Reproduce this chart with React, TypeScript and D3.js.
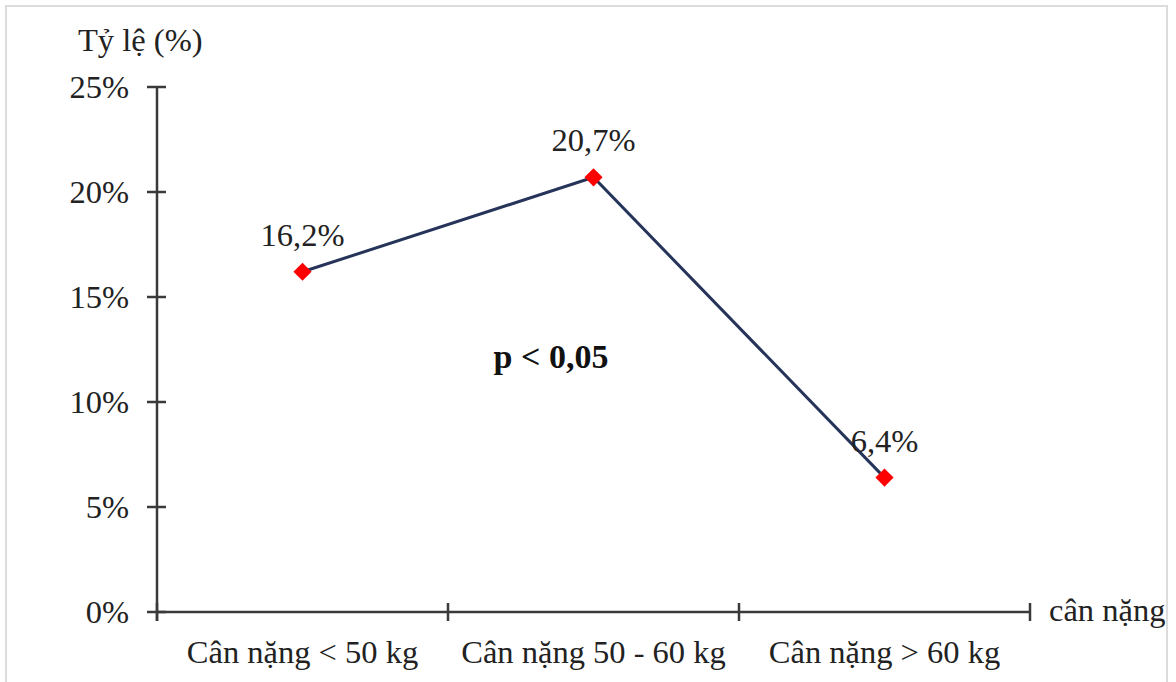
import React from "react";
import * as d3 from "d3";

const categories = ["Cân nặng < 50 kg", "Cân nặng 50 - 60 kg", "Cân nặng > 60 kg"];
const values = [16.2, 20.7, 6.4];
const valueLabels = ["16,2%", "20,7%", "6,4%"];
const yTicks = [0, 5, 10, 15, 20, 25];

const W = 1176;
const H = 682;
const FONT = "'Liberation Serif', 'Times New Roman', serif";
const FS = 32.5;

export default function App() {
  const x = d3.scaleBand<string>().domain(categories).range([157, 1030]).padding(0);
  const y = d3.scaleLinear().domain([0, 25]).range([612, 87]);
  const cx = (c: string) => (x(c) as number) + x.bandwidth() / 2;
  const line = d3
    .line<number>()
    .x((_, i) => cx(categories[i]))
    .y((d) => y(d));
  const xTickPos = [...categories.map((c) => x(c) as number), 1030];
  const axisColor = "#3a3a3a";
  const diamond = d3.symbol().type(d3.symbolDiamond2).size(210)();

  return (
    <svg width={W} height={H} style={{ position: "absolute", left: 0, top: 0, background: "#fff" }} fontFamily={FONT}>
      <rect x={6} y={6} width={1161} height={700} fill="#fff" stroke="#dcdcdc" strokeWidth={2} />
      {/* Y axis */}
      <line x1={157} x2={157} y1={y(25)} y2={621} stroke={axisColor} strokeWidth={2.5} />
      {yTicks.map((t) => (
        <g key={t}>
          <line x1={147} x2={166} y1={y(t)} y2={y(t)} stroke={axisColor} strokeWidth={2.5} />
          <text x={129} y={y(t)} dy="0.35em" textAnchor="end" fontSize={FS} fill="#222">
            {t}%
          </text>
        </g>
      ))}
      <text x={78} y={51} fontSize={FS} fill="#222">Tỷ lệ (%)</text>
      {/* X axis */}
      <line x1={157} x2={1030} y1={612} y2={612} stroke={axisColor} strokeWidth={2.5} />
      {xTickPos.map((p, i) => (
        <line key={i} x1={p} x2={p} y1={603} y2={621} stroke={axisColor} strokeWidth={2.5} />
      ))}
      {categories.map((c) => (
        <text key={c} x={cx(c)} y={663} textAnchor="middle" fontSize={FS} fill="#222">
          {c}
        </text>
      ))}
      <text x={1049} y={621} fontSize={FS} fill="#222">cân nặng</text>
      {/* series */}
      <path d={line(values) || ""} fill="none" stroke="#26345a" strokeWidth={3} />
      {values.map((v, i) => (
        <path key={i} d={diamond || ""} transform={`translate(${cx(categories[i])},${y(v)})`} fill="#ff0000" />
      ))}
      {values.map((v, i) => (
        <text key={i} x={cx(categories[i])} y={y(v) - 26} textAnchor="middle" fontSize={FS} fill="#222">
          {valueLabels[i]}
        </text>
      ))}
      <text x={551} y={368} textAnchor="middle" fontSize={34} fontWeight="bold" fill="#111">
        p &lt; 0,05
      </text>
    </svg>
  );
}
